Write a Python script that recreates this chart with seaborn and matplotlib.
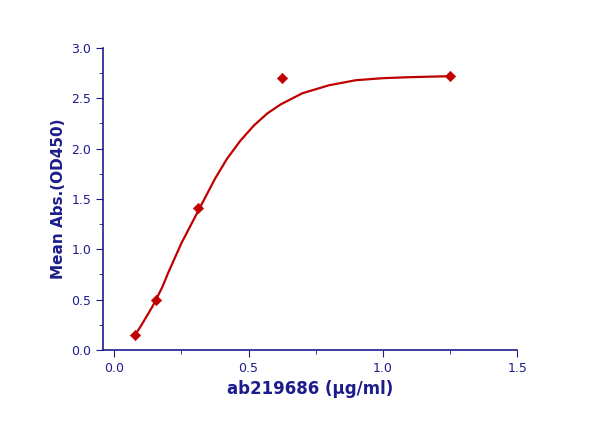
import matplotlib
matplotlib.use("Agg")
import matplotlib.pyplot as plt
import seaborn as sns
from matplotlib.ticker import MultipleLocator

# measured points
conc = [0.078, 0.156, 0.3125, 0.625, 1.25]
od = [0.15, 0.50, 1.41, 2.70, 2.72]

# fitted curve
curve_x = [0.078, 0.1, 0.12, 0.14, 0.156, 0.18, 0.2, 0.25, 0.3125, 0.375, 0.42, 0.47, 0.52, 0.57, 0.62, 0.7, 0.8, 0.9, 1.0, 1.1, 1.25]
curve_y = [0.15, 0.24, 0.33, 0.42, 0.50, 0.63, 0.76, 1.06, 1.38, 1.70, 1.90, 2.08, 2.23, 2.35, 2.44, 2.55, 2.63, 2.68, 2.70, 2.71, 2.72]

NAVY = "#1c1c8c"
RED = "#c00000"

sns.set_style("white")
fig = plt.figure(figsize=(6, 4.21), dpi=100)
ax = fig.add_axes([0.172, 0.169, 0.69, 0.717])

sns.lineplot(x=curve_x, y=curve_y, ax=ax, color=RED, linewidth=1.6)
sns.scatterplot(x=conc, y=od, ax=ax, color=RED, marker="D", s=28, edgecolor=RED, zorder=5)

ax.set_xlim(-0.041, 1.5)
ax.set_ylim(0, 3.0)
ax.xaxis.set_major_locator(MultipleLocator(0.5))
ax.yaxis.set_major_locator(MultipleLocator(0.5))
ax.xaxis.set_minor_locator(MultipleLocator(0.25))
ax.yaxis.set_minor_locator(MultipleLocator(0.25))
ax.xaxis.set_major_formatter(plt.FuncFormatter(lambda v, p: f"{v:.1f}"))
ax.yaxis.set_major_formatter(plt.FuncFormatter(lambda v, p: f"{v:.1f}"))

for s in ["top", "right"]:
    ax.spines[s].set_visible(False)
for s in ["left", "bottom"]:
    ax.spines[s].set_color(NAVY)
    ax.spines[s].set_linewidth(1.2)
ax.tick_params(which="both", colors=NAVY, direction="out", labelsize=9)
ax.tick_params(which="major", length=5, bottom=True, left=True)
ax.tick_params(which="minor", length=3, bottom=True, left=True)

ax.set_xlabel("ab219686 (µg/ml)", fontsize=12, fontweight="bold", color=NAVY)
ax.set_ylabel("Mean Abs.(OD450)", fontsize=11, fontweight="bold", color=NAVY)

fig.savefig("out.png", dpi=100)
